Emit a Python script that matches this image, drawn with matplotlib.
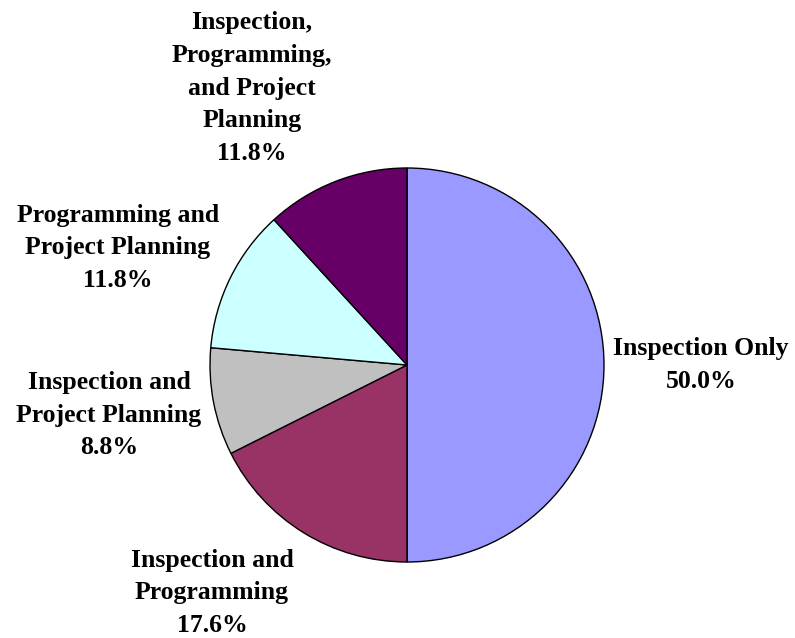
import matplotlib
matplotlib.use("Agg")
import matplotlib.pyplot as plt

# Share of respondents by activity
CATEGORIES = [
    "Inspection Only",
    "Inspection and\nProgramming",
    "Inspection and\nProject Planning",
    "Programming and\nProject Planning",
    "Inspection,\nProgramming,\nand Project\nPlanning",
]
SHARES = [50.0, 17.6, 8.8, 11.8, 11.8]
COLORS = ["#9999FF", "#993366", "#C0C0C0", "#CCFFFF", "#660066"]

# label anchor positions, in pie-radius units (layout only)
LABEL_XY = [
    (1.492, 0.0),
    (-0.99, -1.157),
    (-1.513, -0.254),
    (-1.467, 0.594),
    (-0.787, 1.406),
]

W, H = 795, 638
CX, CY, R = 407, 365, 197

fig = plt.figure(figsize=(W / 100, H / 100), dpi=100)
ax = fig.add_axes([0, 0, 1, 1])

ax.pie(
    SHARES,
    colors=COLORS,
    startangle=90,
    counterclock=False,
    radius=1.0,
    center=(0, 0),
    frame=True,
    wedgeprops=dict(edgecolor="black", linewidth=1.0),
)
ax.set_xlim(-CX / R, (W - CX) / R)
ax.set_ylim(-(H - CY) / R, CY / R)
ax.set_aspect("auto")
ax.axis("off")

for name, share, (x, y) in zip(CATEGORIES, SHARES, LABEL_XY):
    ax.text(
        x, y, f"{name}\n{share:.1f}%",
        ha="center", va="center", multialignment="center",
        fontsize=18.5, fontweight="bold", family="Liberation Serif",
        linespacing=1.55, color="black",
    )

fig.savefig("out.png", dpi=100)
